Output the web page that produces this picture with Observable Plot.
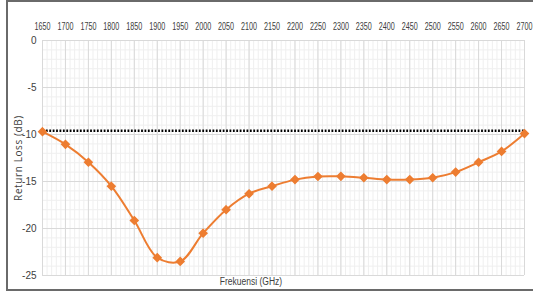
<!DOCTYPE html>
<html>
<head>
<meta charset="utf-8">
<script src="https://cdn.jsdelivr.net/npm/d3@7"></script>
<script src="https://cdn.jsdelivr.net/npm/@observablehq/plot@0.6"></script>
<style>
  html, body { margin: 0; padding: 0; background: #fff; }
  #wrap { position: relative; width: 533px; height: 292px; overflow: hidden; }
  #border { position: absolute; left: 6px; top: 0px; width: 600px; height: 287px;
            border-top: 2px solid #6a6a6a; border-left: 2px solid #6a6a6a; border-bottom: 2px solid #6a6a6a; pointer-events: none; }
  #xlabel { position: absolute; left: 180px; width: 142px; top: 276px; text-align: center;
            font: 10px "Liberation Sans", sans-serif; color: #404040; transform: scaleX(0.85); transform-origin: 71px 0; }
  #ylabel { position: absolute; left: 11px; top: 157.5px; width: 0; height: 0; }
  #ylabel span { position: absolute; left: 0; top: 0; white-space: nowrap; font: 10px "Open Sans", sans-serif;
            letter-spacing: 0.6px; color: #404040; transform: rotate(-90deg) translate(-50%, 0); transform-origin: 0 0; }
  #chart { position: absolute; left: 0; top: 0; }
</style>
</head>
<body>
<div id="wrap">
  <div id="chart"></div>
  <div id="xlabel">Frekuensi (GHz)</div>
  <div id="ylabel"><span>Return Loss (dB)</span></div>
  <div id="border"></div>
</div>
<script>
const frequencies = [1650,1700,1750,1800,1850,1900,1950,2000,2050,2100,2150,2200,2250,2300,2350,2400,2450,2500,2550,2600,2650,2700];
const returnLoss  = [-9.7,-11.05,-12.95,-15.5,-19.15,-23.1,-23.5,-20.5,-18.0,-16.3,-15.5,-14.8,-14.47,-14.45,-14.6,-14.8,-14.8,-14.6,-14.0,-12.95,-11.8,-9.9];
const threshold = -9.6;
const xTicks = d3.range(1650, 2701, 50);
const yTicks = [0, -5, -10, -15, -20, -25];
const xMinor = d3.range(1650, 2701, 10);
const yMinor = d3.range(0, -26, -1);

const data = frequencies.map((f, i) => ({f, v: returnLoss[i]}));
const thr = [{f: frequencies[0], v: threshold}, {f: frequencies[frequencies.length - 1], v: threshold}];

const chart = Plot.plot({
  width: 533,
  height: 292,
  marginLeft: 42,
  marginRight: 9,
  marginTop: 40,
  marginBottom: 17,
  style: {fontFamily: '"Liberation Sans", sans-serif', fontSize: "10px", color: "#404040", background: "transparent"},
  x: {domain: [1650, 2700]},
  y: {domain: [-25, 0]},
  marks: [
    Plot.ruleX(xMinor, {stroke: "#efefef", strokeWidth: 1}),
    Plot.ruleY(yMinor, {stroke: "#efefef", strokeWidth: 1}),
    Plot.ruleX(xTicks, {stroke: "#d9d9d9", strokeWidth: 1}),
    Plot.ruleY(yTicks, {stroke: "#d9d9d9", strokeWidth: 1}),
    Plot.axisX({anchor: "top", ticks: xTicks, tickFormat: d => String(d), tickSize: 0, tickPadding: 11, label: null}),
    Plot.axisY({anchor: "left", ticks: yTicks, tickFormat: d => String(d), tickSize: 0, tickPadding: 6, label: null}),
    Plot.line(thr, {x: "f", y: "v", stroke: "#000", strokeWidth: 2.4, strokeDasharray: "1.8,1.6", strokeLinecap: "butt"}),
    Plot.line(data, {x: "f", y: "v", stroke: "#ED7D31", strokeWidth: 2, curve: "catmull-rom"}),
    Plot.dot(data, {x: "f", y: "v", symbol: "diamond2", r: 3.4, fill: "#ED7D31", stroke: "#ED7D31"})
  ]
});
// condense the top tick labels to fit like the reference's narrow font
chart.querySelectorAll('g[aria-label="x-axis tick label"] text').forEach(t => {
  t.setAttribute("textLength", "16");
  t.setAttribute("lengthAdjust", "spacingAndGlyphs");
});
document.getElementById("chart").appendChild(chart);
</script>
</body>
</html>
